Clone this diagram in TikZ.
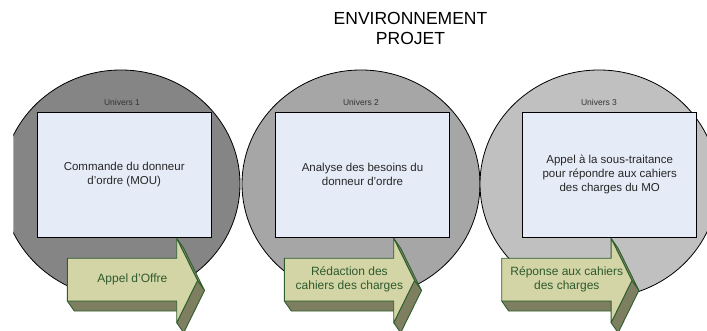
\documentclass[tikz,border=0pt]{standalone}
\usepackage{fontspec}
\setmainfont{Liberation Sans}
\usetikzlibrary{shapes.geometric}
\definecolor{uone}{HTML}{858585}
\definecolor{utwo}{HTML}{A6A6A6}
\definecolor{uthree}{HTML}{C0C0C0}
\definecolor{boxfill}{HTML}{E6ECF7}
\definecolor{arrfront}{HTML}{D3D5A6}
\definecolor{arrdark}{HTML}{7E7E60}
\definecolor{arrside}{HTML}{88886A}
\definecolor{arredge}{HTML}{2F5E2F}
\definecolor{arrtext}{HTML}{2E5A2E}
\tikzset{
  univ/.style={ellipse, draw=black, line width=0.8pt, minimum width=238pt, minimum height=228pt, inner sep=0pt},
  boxnode/.style={draw=black, line width=0.9pt, fill=boxfill, minimum width=173.7pt, minimum height=125pt, inner sep=0pt,
    align=center, font=\fontsize{11.5}{14}\selectfont, text=black!85},
  univlabel/.style={font=\fontsize{8.5}{10}\selectfont, text=black!80, inner sep=0pt},
  arrface/.style={draw=arredge, line width=0.9pt, line join=round},
  arrlabel/.style={align=center, font=\fontsize{12}{14}\selectfont, text=arrtext, inner sep=0pt},
}
\newcommand{\blockarrow}[1]{%
  \fill[arrface, fill=arrdark] (#1,301) -- (#1+109.4,301) -- (#1+116.4,311) -- (#1+7,311) -- cycle;
  \fill[arrface, fill=arrside] (#1+109.4,238.3) -- (#1+130.2,280.5) -- (#1+137.2,290.5) -- (#1+116.4,248.3) -- cycle;
  \fill[arrface, fill=arrdark] (#1+130.2,280.5) -- (#1+109.4,322.7) -- (#1+116.4,332.7) -- (#1+137.2,290.5) -- cycle;
  \fill[arrface, fill=arrfront] (#1,258.3) -- (#1+109.4,258.3) -- (#1+109.4,238.3) -- (#1+130.2,280.5)
     -- (#1+109.4,322.7) -- (#1+109.4,301) -- (#1,301) -- cycle;
}
\begin{document}
\begin{tikzpicture}[x=1pt,y=-1pt]
\useasboundingbox (0,0) rectangle (707,331);
\clip (0,0) rectangle (707,331);
% title
\node[align=center, font=\fontsize{17.5}{20}\selectfont, inner sep=0pt] (title) at (410.5,28.5) {ENVIRONNEMENT\\PROJET};
% universes
\begin{scope}
\clip (13.3,0) rectangle (707,331);
\node[univ, fill=uone] (u1) at (121,184) {};
\node[univ, fill=utwo] (u2) at (361,184) {};
\node[univ, fill=uthree] (u3) at (599,184) {};
\end{scope}
\node[univlabel] (l1) at (122,102) {Univers 1};
\node[univlabel] (l2) at (361,102) {Univers 2};
\node[univlabel] (l3) at (599,102) {Univers 3};
% boxes
\node[boxnode] (r1) at (124.2,174.5) {Commande du donneur\\d'ordre (MOU)};
\node[boxnode] (r2) at (362.5,174.5) {Analyse des besoins du\\donneur d'ordre};
\node[boxnode] (r3) at (609.7,174.5) {Appel à la sous-traitance\\pour répondre aux cahiers\\des charges du MO};
% arrows
\blockarrow{67.3}
\blockarrow{284.3}
\blockarrow{501.7}
\node[arrlabel] (a1) at (132.4,279.5) {Appel d'Offre};
\node[arrlabel] (a2) at (349.4,279.5) {Rédaction des\\cahiers des charges};
\node[arrlabel] (a3) at (566.8,279.5) {Réponse aux cahiers\\des charges};
\end{tikzpicture}
\end{document}
